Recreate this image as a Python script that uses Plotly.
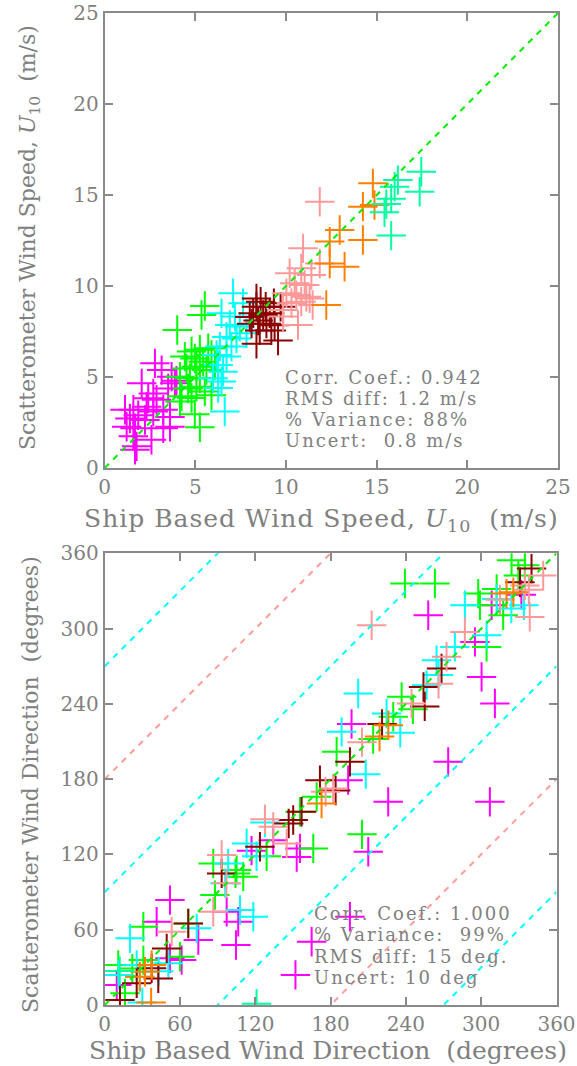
import plotly.graph_objects as go

W, H = 577, 1066

# ---------------- data: wind speed (m/s) ----------------
spd_magenta_x = [2.77, 2.04, 3.14, 3.69, 3.87, 3.5, 2.68, 2.86, 2.4, 1.12, 1.58, 1.85, 2.31, 2.68, 3.23, 3.6, 1.39, 2.22, 1.21, 1.67, 3.23, 3.6, 1.58, 2.58, 1.76, 1.67, 3.96]
spd_magenta_y = [5.75, 4.65, 5.38, 5.02, 4.65, 4.37, 4.1, 3.75, 3.83, 3.2, 3.2, 2.9, 3.37, 3.1, 3.2, 2.8, 2.72, 2.64, 2.27, 2.18, 2.18, 2.27, 1.74, 1.55, 1.19, 1.0, 4.8]
spd_green_x = [5.52, 5.34, 4.0, 4.79, 5.25, 5.71, 4.42, 4.97, 5.43, 4.51, 5.06, 5.61, 4.15, 4.7, 5.25, 4.6, 5.06, 5.52, 5.89, 4.24, 4.79, 4.15, 4.97, 5.25, 5.89, 6.08]
spd_green_y = [8.9, 8.41, 7.58, 6.4, 6.5, 6.58, 6.12, 6.02, 5.84, 5.47, 5.57, 5.38, 5.02, 4.93, 4.93, 4.37, 4.46, 4.2, 4.0, 3.94, 3.85, 3.66, 2.96, 2.24, 6.21, 5.66]
spd_cyan_x = [6.44, 7.63, 7.18, 6.9, 7.45, 7.82, 6.72, 7.27, 6.35, 6.99, 6.17, 6.72, 6.26, 6.53, 5.98, 6.44, 6.26, 6.62, 7.08]
spd_cyan_y = [8.5, 9.05, 8.32, 7.86, 7.77, 7.4, 7.2, 7.12, 6.67, 6.67, 6.21, 6.12, 5.66, 5.29, 4.93, 4.75, 4.39, 3.1, 9.6]
spd_dred_x = [8.37, 8.6, 8.88, 9.33, 9.7, 8.19, 8.74, 9.1, 8.1, 8.46, 8.92, 9.37, 8.55, 9.19, 8.37, 9.56, 8.0, 8.37]
spd_dred_y = [9.32, 9.14, 8.86, 9.05, 8.86, 8.5, 8.41, 8.5, 7.93, 8.1, 7.93, 7.84, 7.56, 7.56, 6.83, 7.0, 8.3, 8.86]
spd_salmon_x = [11.86, 10.94, 10.2, 10.84, 11.4, 11.86, 10.48, 11.03, 10.02, 10.57, 11.12, 10.3, 10.84, 11.47, 9.84, 10.66, 11.3, 9.84]
spd_salmon_y = [14.63, 12.07, 10.7, 10.97, 10.6, 11.24, 10.15, 10.06, 9.6, 9.5, 9.41, 9.05, 9.14, 8.96, 8.68, 7.86, 9.32, 8.32]
spd_orange_x = [14.79, 14.24, 14.88, 12.96, 12.41, 14.24, 12.41, 13.23, 12.22]
spd_orange_y = [15.64, 14.36, 14.45, 13.08, 12.44, 12.53, 11.24, 11.06, 8.96]
spd_mint_x = [17.46, 16.17, 15.99, 17.37, 15.8, 15.53, 15.43, 15.8]
spd_mint_y = [16.28, 15.82, 15.46, 15.18, 14.8, 14.5, 14.05, 12.77]

# ---------------- data: wind direction (degrees) ----------------
dir_magenta_x = [52, 41.4, 74.6, 61.3, 97.2, 106.4, 104.6, 9.6, 52, 196.7, 194, 155.6, 153, 134.3, 117, 210, 257.8, 300.3, 310.9, 295, 308.3, 332, 273.7, 225.9, 306.9, 195.4, 164.9, 152]
dir_magenta_y = [83.6, 66.4, 51.8, 35.8, 74.3, 66.4, 47.8, 15.9, 37.2, 224, 179.2, 124.8, 118, 131.4, 123, 122.1, 310.6, 261.5, 240.3, 289.4, 318.6, 327, 193.8, 161.9, 161.9, 70.3, 50.4, 24]
dir_green_x = [30.8, 10.8, 16.2, 60, 66.6, 86.5, 87.9, 104.2, 22, 30.8, 184.8, 168.9, 166.2, 129, 105.1, 110.4, 205, 239.2, 263.1, 304.3, 236.6, 245.6, 229.9, 213.9, 324.2, 334.8, 329.6, 297.6, 299, 312.3, 317.5, 155.6]
dir_green_y = [62.4, 31.9, 9.3, 38.5, 65, 112.8, 87.6, 104.9, 29, 35.8, 201.8, 165.9, 124.8, 118.6, 107.5, 102.3, 136, 335.9, 335.9, 285.4, 245.6, 235.7, 229.7, 211.9, 354.4, 350.5, 342.3, 327.9, 318.6, 331.5, 310.6, 154]
dir_cyan_x = [20.2, 25.5, 27.8, 73.3, 107.8, 118.4, 96, 50.7, 30, 11, 43, 202, 188.8, 208, 127.7, 113.1, 121, 98.4, 304.3, 279, 264.4, 266, 256.5, 224.6, 235.5, 287, 312.3, 324, 334]
dir_cyan_y = [53.1, 31.9, 22.5, 61.1, 75.7, 70.3, 97, 33.2, 2, 24, 26.8, 248.3, 217.7, 184, 145.5, 128.8, 118.6, 112.8, 294.7, 285.4, 274.8, 263, 254.9, 232.3, 217, 318.6, 323.6, 316, 318.6]
dir_dred_x = [12.2, 25.5, 42.7, 49.4, 66.6, 93.2, 37.4, 195.4, 171.5, 184, 156.9, 150.2, 146.6, 123.7, 268.4, 254, 255, 221, 340.1, 330.9]
dir_dred_y = [4, 17.3, 21.2, 45.1, 65, 104.9, 29.2, 193.8, 179.2, 171, 154, 147.4, 144.6, 126.1, 268.2, 253.5, 238, 224, 347.8, 336.9]
dir_salmon_x = [53.4, 86.5, 93.2, 97, 205, 182, 134.3, 127.7, 145, 212.7, 287, 272.4, 266, 244.5, 349.4, 334.8, 338, 315, 338.7, 176]
dir_salmon_y = [58.4, 74.3, 119.5, 97, 209.5, 172.6, 142, 148, 128.8, 302.7, 297.3, 277.5, 256, 240.3, 342.3, 334.3, 331, 323, 309.3, 169.9]
dir_orange_x = [37.4, 32.1, 28, 37, 172.8, 226, 219, 325.6, 320.2]
dir_orange_y = [31.9, 26.5, 22.5, 2, 160.6, 223, 214, 329, 327.9]
dir_mint_x = [121, 12]
dir_mint_y = [1, 27]

# reference lines
spd_line = [0, 25]
dir_line = [0, 360]
dir_offsets = [270, 180, 90, -90, -180, -270]
dir_offset_colors = ["#00ffff", "#ff9c9c", "#00ffff", "#00ffff", "#ff9c9c", "#00ffff"]

spd_ticks = [0, 5, 10, 15, 20, 25]
dir_ticks = [0, 60, 120, 180, 240, 300, 360]

spd_stats = ["Corr. Coef.: 0.942", "RMS diff: 1.2 m/s", "% Variance: 88%", "Uncert:\u00a0\u00a00.8 m/s"]
dir_stats = ["Corr. Coef.: 1.000", "% Variance:\u00a0\u00a099%", "RMS diff: 15 deg.", "Uncert: 10 deg"]

COL = {"magenta": "#ff00ff", "green": "#00ff00", "cyan": "#00ffff", "dred": "#8b0000",
       "salmon": "#ff9999", "orange": "#ff7f00", "mint": "#00ffa0"}
GRAY = "#808080"
FONT = "DejaVu Serif"

fig = go.Figure()

def add_pts(xs, ys, color, xa, ya):
    fig.add_trace(go.Scatter(x=xs, y=ys, mode="markers", xaxis=xa, yaxis=ya,
                             marker=dict(symbol="cross-thin", size=21,
                                         line=dict(width=2, color=color), color=color),
                             showlegend=False, hoverinfo="skip"))

spd_sets = [(spd_magenta_x, spd_magenta_y, "magenta"), (spd_green_x, spd_green_y, "green"),
            (spd_cyan_x, spd_cyan_y, "cyan"), (spd_dred_x, spd_dred_y, "dred"),
            (spd_salmon_x, spd_salmon_y, "salmon"), (spd_orange_x, spd_orange_y, "orange"),
            (spd_mint_x, spd_mint_y, "mint")]
for xs, ys, c in spd_sets:
    add_pts(xs, ys, COL[c], "x", "y")

dir_sets = [(dir_magenta_x, dir_magenta_y, "magenta"), (dir_green_x, dir_green_y, "green"),
            (dir_cyan_x, dir_cyan_y, "cyan"), (dir_dred_x, dir_dred_y, "dred"),
            (dir_salmon_x, dir_salmon_y, "salmon"), (dir_orange_x, dir_orange_y, "orange"),
            (dir_mint_x, dir_mint_y, "mint")]
for xs, ys, c in dir_sets:
    add_pts(xs, ys, COL[c], "x2", "y2")

DASH = "6px,6px"
fig.add_trace(go.Scatter(x=spd_line, y=spd_line, mode="lines", xaxis="x", yaxis="y",
                         line=dict(color="#00ee00", width=2, dash=DASH),
                         showlegend=False, hoverinfo="skip"))
for off, col in zip(dir_offsets, dir_offset_colors):
    fig.add_trace(go.Scatter(x=dir_line, y=[v + off for v in dir_line], mode="lines",
                             xaxis="x2", yaxis="y2",
                             line=dict(color=col, width=2, dash=DASH),
                             showlegend=False, hoverinfo="skip"))
fig.add_trace(go.Scatter(x=dir_line, y=dir_line, mode="lines", xaxis="x2", yaxis="y2",
                         line=dict(color="#00ee00", width=2, dash=DASH),
                         showlegend=False, hoverinfo="skip"))

def px_x(p):
    return p / W

def px_y(p):
    return 1 - p / H

axis_common = dict(showgrid=False, zeroline=False, showline=True, linecolor="#8a8a8a",
                   linewidth=2, mirror="ticks", ticks="inside", ticklen=8, tickwidth=2,
                   tickcolor="#8a8a8a", automargin=False,
                   tickfont=dict(family=FONT, size=20, color=GRAY))

fig.update_layout(
    width=W, height=H, margin=dict(l=0, r=0, t=0, b=0, pad=0, autoexpand=False),
    autosize=False,
    paper_bgcolor="white", plot_bgcolor="white",
    xaxis=dict(domain=[px_x(104.7), px_x(558)], range=[0, 25], tickvals=spd_ticks,
               anchor="y", **axis_common),
    yaxis=dict(domain=[px_y(468), px_y(13)], range=[0, 25], tickvals=spd_ticks,
               anchor="x", **axis_common),
    xaxis2=dict(domain=[px_x(104.7), px_x(556.5)], range=[0, 360], tickvals=dir_ticks,
                anchor="y2", **axis_common),
    yaxis2=dict(domain=[px_y(1005), px_y(553.3)], range=[0, 360], tickvals=dir_ticks,
                anchor="x2", **axis_common),
)

ann = []
xfont = dict(family=FONT, size=25, color=GRAY)
yfont = dict(family=FONT, size=22, color=GRAY)
ann.append(dict(text="<span style='letter-spacing:1px'>Ship Based Wind Speed, <i>U</i><sub>10</sub>\u00a0\u00a0(m/s)</span>",
                x=px_x(321), y=px_y(520), xref="paper", yref="paper",
                xanchor="center", yanchor="middle", showarrow=False, font=xfont))
ann.append(dict(text="Scatterometer Wind Speed, <i>U</i><sub>10</sub>\u00a0\u00a0(m/s)",
                x=px_x(30), y=px_y(238), xref="paper", yref="paper", textangle=-90,
                xanchor="center", yanchor="middle", showarrow=False, font=yfont))
ann.append(dict(text="Ship Based Wind Direction\u00a0\u00a0(degrees)",
                x=px_x(328), y=px_y(1050), xref="paper", yref="paper",
                xanchor="center", yanchor="middle", showarrow=False, font=xfont))
ann.append(dict(text="Scatterometer Wind Direction\u00a0\u00a0(degrees)",
                x=px_x(30), y=px_y(785), xref="paper", yref="paper", textangle=-90,
                xanchor="center", yanchor="middle", showarrow=False, font=yfont))

sfont = dict(family=FONT, size=18, color=GRAY)
def spaced(t):
    return "<span style='letter-spacing:2px'>" + t + "</span>"
for i, t in enumerate(spd_stats):
    ann.append(dict(text=spaced(t), x=px_x(283), y=px_y(377 + 21 * i), xref="paper", yref="paper",
                    xanchor="left", yanchor="middle", showarrow=False, font=sfont))
for i, t in enumerate(dir_stats):
    ann.append(dict(text=spaced(t), x=px_x(312), y=px_y(913 + 21.5 * i), xref="paper", yref="paper",
                    xanchor="left", yanchor="middle", showarrow=False, font=sfont))
fig.update_layout(annotations=ann)

fig.write_html("out.html")
